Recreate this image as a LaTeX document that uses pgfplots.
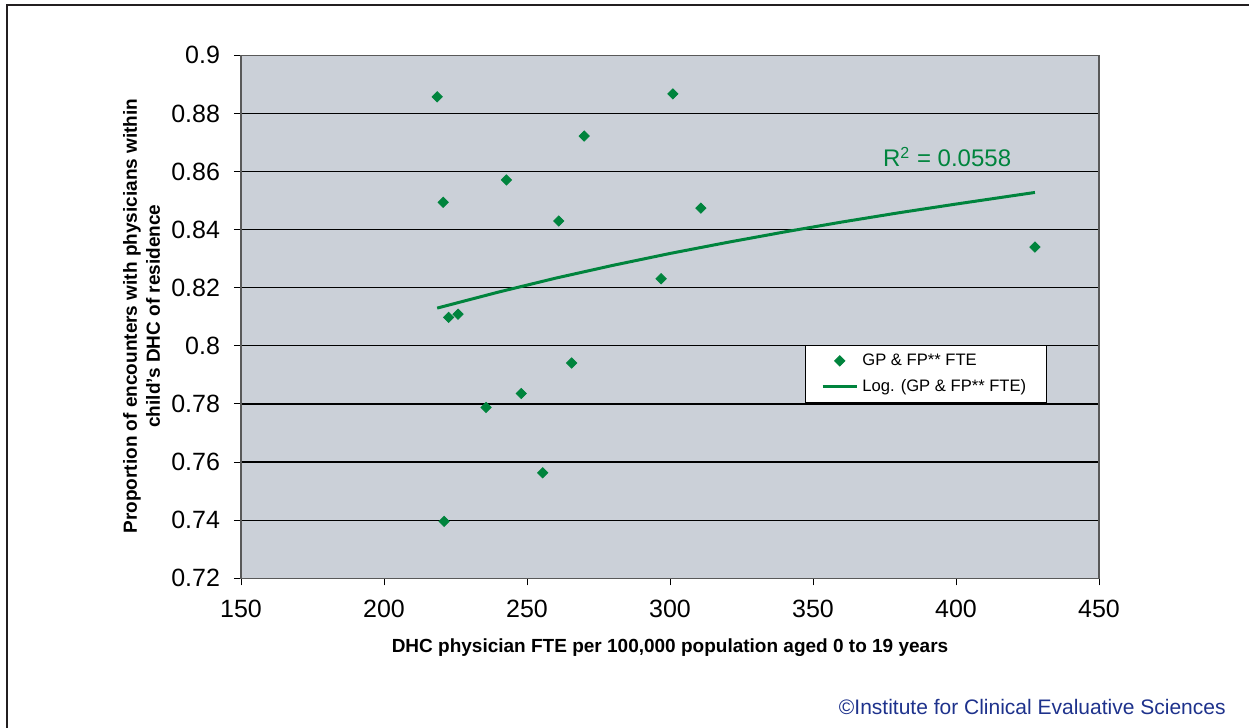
\documentclass[border=0pt]{standalone}
\usepackage{fontspec}
\setmainfont{Liberation Sans}
\usepackage{pgfplots}
\pgfplotsset{compat=1.18}
\definecolor{bg}{RGB}{203,208,216}
\definecolor{trgreen}{RGB}{0,132,61}
\definecolor{icesblue}{RGB}{30,50,140}
\definecolor{framec}{RGB}{35,31,32}
\begin{document}
\begin{tikzpicture}
\path[use as bounding box] (0,0) rectangle (624.5pt,-364pt);
\draw[framec, line width=1.3pt] (3.5pt,-364pt) -- (3.5pt,-2.5pt) -- (624.5pt,-2.5pt);
\begin{axis}[
 at={(120.5pt,-289.15pt)}, anchor=south west,
 scale only axis, width=429pt, height=261.5pt,
 xmin=150, xmax=450, ymin=0.72, ymax=0.9,
 xtick={150,200,250,300,350,400,450},
 ytick={0.72,0.74,0.76,0.78,0.8,0.82,0.84,0.86,0.88,0.9},
 yticklabels={0.72,0.74,0.76,0.78,0.8,0.82,0.84,0.86,0.88,0.9},
 ymajorgrids, grid style={black, line width=0.6pt},
 axis background/.style={fill=bg},
 axis line style={gray!70!black, line width=0.6pt},
 tick align=outside, major tick length=3.5pt, tick style={black, line width=0.5pt},
 xtick pos=bottom, ytick pos=left,
 ticklabel style={font=\fontsize{12.5}{14}\selectfont},
 yticklabel style={xshift=-3.5pt},
 xticklabel style={yshift=-4pt},
 /pgf/number format/assume math mode=true,
 legend style={at={(0.657,0.446)}, anchor=north west, draw=black, fill=white,
   font=\fontsize{8.3}{10}\selectfont, inner xsep=8pt, inner ysep=2pt, row sep=1.5pt, line width=0.5pt},
 legend cell align=left,
 clip=false,
]
\addplot[only marks, color=trgreen, mark=square*, mark size=1.8pt,
  mark options={rotate=45, draw=trgreen, fill=trgreen}] coordinates {
 (218.6,0.8857) (220.7,0.8494) (222.6,0.8098) (225.9,0.8109) (221.0,0.7396)
 (235.7,0.7788) (242.8,0.8571) (248.0,0.7836) (255.5,0.7563) (261.1,0.8430)
 (265.6,0.7941) (270.0,0.8722) (296.9,0.8231) (301.0,0.8867) (310.8,0.8474)
 (427.6,0.8340)
};
\addplot[trgreen, line width=1.5pt, no marks] coordinates {
 (218.6,0.8130) (240,0.8185) (260,0.8233) (280,0.8277) (300,0.8318) (320,0.8356)
 (340,0.8392) (360,0.8426) (380,0.8458) (400,0.8488) (427.6,0.8528)
};
\legend{GP \& FP** FTE, Log. (GP \& FP** FTE)}
\node[trgreen, font=\fontsize{12}{14}\selectfont] at (axis cs:396.9,0.865) {R\textsuperscript{2} = 0.0558};
\end{axis}
\node[font=\bfseries\fontsize{9.5}{11}\selectfont] at (335pt,-324pt) {DHC physician FTE per 100,000 population aged 0 to 19 years};
\node[rotate=90, font=\bfseries\fontsize{9.5}{11.5}\selectfont, align=center] at (70.75pt,-158pt) {Proportion of encounters with physicians within\\child's DHC of residence};
\node[icesblue, font=\fontsize{10.5}{12}\selectfont, anchor=base east, inner sep=0pt] at (613pt,-357pt) {©Institute for Clinical Evaluative Sciences};
\end{tikzpicture}
\end{document}
